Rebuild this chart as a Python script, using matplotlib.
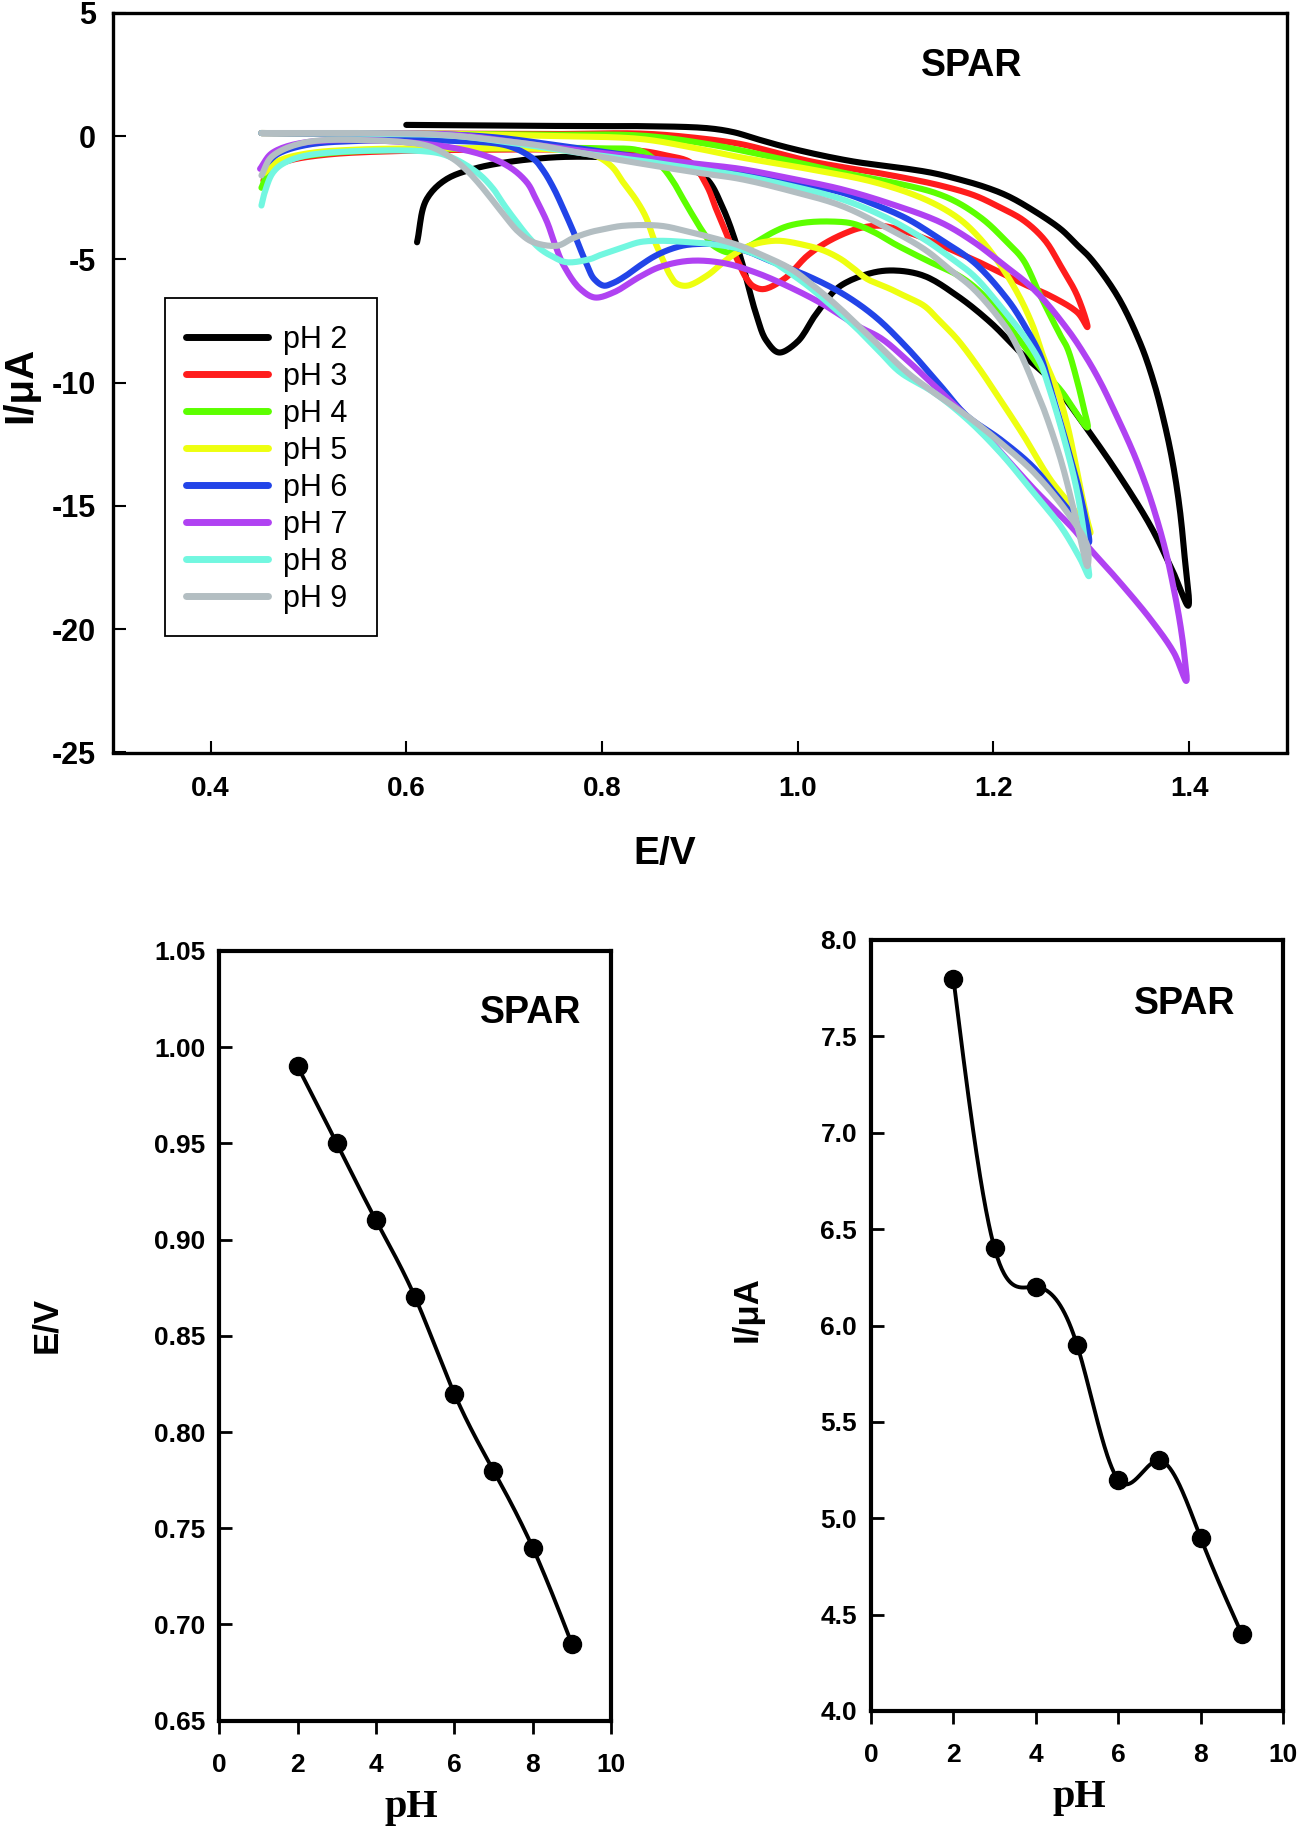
import numpy as np
import matplotlib
matplotlib.use("Agg")
import matplotlib.pyplot as plt
from matplotlib.ticker import FormatStrFormatter, MultipleLocator
from matplotlib.patches import Rectangle

plt.rcParams['axes.unicode_minus'] = False
plt.rcParams['font.family'] = ['Liberation Sans', 'DejaVu Sans']

# ---------------- data: cyclic voltammograms (E/V, I/uA) ----------------
labels = ['pH 2', 'pH 3', 'pH 4', 'pH 5', 'pH 6', 'pH 7', 'pH 8', 'pH 9']
colors = ['#000000', '#ff1c1c', '#5cff00', '#eeff10', '#2244e8', '#b042f2', '#72f7e0', '#b3bec2']

E_ph2 = [0.600, 0.70, 0.80, 0.839, 0.907, 0.935, 0.958, 0.985, 1.010, 1.036, 1.061, 1.087, 1.112, 1.138, 1.163, 1.19, 1.214, 1.24, 1.2686, 1.285, 1.299, 1.3266, 1.350, 1.364, 1.3745, 1.383, 1.390, 1.395, 1.399,
         1.385, 1.3606, 1.3266, 1.2959, 1.2686, 1.255, 1.231, 1.197, 1.163, 1.129, 1.102, 1.078, 1.044, 1.020, 0.999, 0.981, 0.968, 0.958, 0.941, 0.924, 0.907, 0.890, 0.860, 0.805, 0.754, 0.703, 0.669, 0.6415, 0.621, 0.611]
I_ph2 = [0.45, 0.42, 0.40, 0.40, 0.32, 0.15, -0.12, -0.42, -0.66, -0.88, -1.06, -1.2, -1.33, -1.5, -1.74, -2.05, -2.42, -3.0, -3.77, -4.4, -4.95, -6.48, -8.4, -10.0, -11.6, -13.2, -15.0, -16.9, -19.05,
         -17.8, -15.82, -13.65, -11.89, -10.40, -9.75, -8.91, -7.56, -6.48, -5.67, -5.46, -5.53, -6.07, -7.15, -8.37, -8.78, -8.3, -7.29, -4.85, -2.96, -1.74, -1.33, -1.0, -0.86, -0.86, -1.06, -1.33, -1.74, -2.55, -4.31]

E_ph3 = [0.452, 0.60, 0.75, 0.839, 0.89, 0.941, 0.975, 1.010, 1.044, 1.078, 1.112, 1.146, 1.18, 1.207, 1.23, 1.252, 1.2686, 1.2857, 1.296,
         1.2857, 1.258, 1.2346, 1.214, 1.19, 1.163, 1.139, 1.112, 1.085, 1.065, 1.051, 1.03, 1.010, 0.986, 0.965, 0.955, 0.948, 0.938, 0.928, 0.917, 0.907, 0.890, 0.866, 0.839, 0.78, 0.70, 0.60, 0.52, 0.48, 0.462, 0.454]
I_ph3 = [0.12, 0.10, 0.08, 0.10, -0.05, -0.32, -0.65, -1.0, -1.25, -1.47, -1.72, -2.01, -2.4, -2.9, -3.4, -4.2, -5.26, -6.48, -7.75,
         -7.15, -6.48, -6.07, -5.67, -5.2, -4.72, -4.3, -3.90, -3.64, -3.72, -3.90, -4.3, -4.85, -5.80, -6.21, -6.1, -5.80, -5.0, -4.04, -3.0, -2.01, -1.06, -0.79, -0.6, -0.55, -0.55, -0.6, -0.75, -1.0, -1.3, -1.8]

E_ph4 = [0.452, 0.60, 0.75, 0.839, 0.907, 0.975, 1.044, 1.112, 1.14, 1.163, 1.19, 1.214, 1.23, 1.248, 1.2686, 1.2755, 1.286, 1.292, 1.296,
         1.2686, 1.25, 1.231, 1.214, 1.197, 1.18, 1.163, 1.14, 1.121, 1.10, 1.078, 1.056, 1.036, 1.010, 0.99, 0.975, 0.951, 0.935, 0.928, 0.914, 0.905, 0.897, 0.885, 0.873, 0.86, 0.839, 0.80, 0.70, 0.60, 0.52, 0.48, 0.462, 0.452]
I_ph4 = [0.12, 0.10, 0.05, 0.02, -0.32, -0.86, -1.47, -2.01, -2.3, -2.69, -3.4, -4.31, -5.0, -6.48, -8.1, -8.6, -10.0, -11.0, -11.82,
         -10.3, -9.5, -8.5, -7.6, -6.76, -6.1, -5.63, -5.2, -4.83, -4.4, -3.9, -3.55, -3.47, -3.50, -3.65, -3.90, -4.45, -4.7, -4.72, -4.45, -4.0, -3.50, -2.7, -1.87, -1.2, -0.6, -0.5, -0.5, -0.55, -0.7, -0.95, -1.3, -2.1]

E_ph5 = [0.452, 0.60, 0.75, 0.839, 0.89, 0.941, 1.010, 1.078, 1.129, 1.163, 1.185, 1.206, 1.225, 1.240, 1.2515, 1.266, 1.276, 1.283, 1.290, 1.296, 1.299,
         1.2795, 1.258, 1.231, 1.207, 1.185, 1.163, 1.145, 1.129, 1.11, 1.095, 1.071, 1.058, 1.044, 1.027, 1.010, 0.982, 0.965, 0.951, 0.935, 0.924, 0.907, 0.887, 0.877, 0.870, 0.862, 0.853, 0.845, 0.835, 0.822, 0.809, 0.79, 0.75, 0.65, 0.55, 0.50, 0.47, 0.455]
I_ph5 = [0.12, 0.10, 0.0, -0.12, -0.45, -0.86, -1.33, -1.87, -2.55, -3.3, -4.1, -5.17, -6.4, -7.67, -9.0, -10.4, -11.8, -13.1, -14.5, -15.6, -16.1,
         -15.0, -13.92, -12.16, -10.7, -9.4, -8.24, -7.5, -6.88, -6.5, -6.21, -5.80, -5.4, -4.99, -4.65, -4.45, -4.25, -4.3, -4.45, -4.8, -5.12, -5.67, -6.07, -6.0, -5.67, -5.0, -4.18, -3.3, -2.6, -1.9, -1.2, -0.75, -0.55, -0.5, -0.55, -0.7, -1.0, -1.5]

E_ph6 = [0.452, 0.55, 0.65, 0.695, 0.74, 0.780, 0.839, 0.89, 0.941, 0.99, 1.044, 1.08, 1.112, 1.146, 1.180, 1.214, 1.232, 1.248, 1.258, 1.2755, 1.289, 1.2975,
         1.285, 1.265, 1.24, 1.207, 1.173, 1.146, 1.112, 1.078, 1.044, 1.010, 0.975, 0.95, 0.924, 0.890, 0.873, 0.855, 0.839, 0.825, 0.812, 0.802, 0.792, 0.785, 0.778, 0.771, 0.761, 0.751, 0.740, 0.730, 0.703, 0.65, 0.55, 0.50, 0.47, 0.455]
I_ph6 = [0.12, 0.10, 0.05, -0.07, -0.3, -0.52, -0.86, -1.2, -1.47, -1.85, -2.28, -2.8, -3.36, -4.2, -5.12, -6.61, -7.7, -8.91, -10.2, -12.6, -14.6, -16.49,
         -15.6, -14.6, -13.4, -12.3, -11.35, -10.13, -8.6, -7.29, -6.35, -5.67, -5.12, -4.7, -4.42, -4.4, -4.55, -4.85, -5.25, -5.65, -5.95, -6.07, -5.8, -5.26, -4.6, -3.90, -3.0, -2.15, -1.4, -0.93, -0.39, -0.2, -0.2, -0.35, -0.7, -1.2]

E_ph7 = [0.452, 0.55, 0.65, 0.72, 0.78, 0.839, 0.89, 0.941, 0.99, 1.044, 1.095, 1.146, 1.180, 1.207, 1.241, 1.2755, 1.296, 1.3095, 1.323, 1.3436, 1.357, 1.3675, 1.377, 1.384, 1.3905, 1.395, 1.397,
         1.3845, 1.3606, 1.3266, 1.299, 1.282, 1.241, 1.207, 1.173, 1.139, 1.112, 1.085, 1.061, 1.027, 0.993, 0.958, 0.924, 0.890, 0.860, 0.839, 0.812, 0.793, 0.778, 0.761, 0.752, 0.744, 0.733, 0.723, 0.703, 0.669, 0.600, 0.498, 0.464, 0.4506]
I_ph7 = [0.12, 0.10, 0.05, -0.3, -0.6, -0.86, -1.1, -1.33, -1.7, -2.15, -2.75, -3.50, -4.3, -5.12, -6.21, -7.83, -9.05, -10.0, -11.1, -12.9, -14.3, -15.6, -17.0, -18.3, -19.7, -21.0, -22.1,
         -20.96, -19.6, -17.98, -16.76, -15.95, -14.3, -12.8, -11.4, -10.1, -9.1, -8.2, -7.7, -6.85, -6.15, -5.55, -5.15, -5.06, -5.3, -5.70, -6.34, -6.55, -6.21, -5.26, -4.4, -3.50, -2.6, -1.87, -1.20, -0.66, -0.25, -0.25, -0.66, -1.33]

E_ph8 = [0.452, 0.55, 0.65, 0.72, 0.78, 0.839, 0.89, 0.941, 0.99, 1.044, 1.09, 1.129, 1.155, 1.180, 1.205, 1.231, 1.248, 1.255, 1.2686, 1.2857, 1.296, 1.2975,
         1.289, 1.2686, 1.241, 1.207, 1.173, 1.139, 1.105, 1.085, 1.061, 1.035, 1.010, 0.990, 0.975, 0.941, 0.915, 0.890, 0.860, 0.839, 0.822, 0.800, 0.788, 0.764, 0.750, 0.737, 0.725, 0.713, 0.700, 0.689, 0.676, 0.662, 0.645, 0.628, 0.566, 0.498, 0.475, 0.464, 0.456, 0.452]
I_ph8 = [0.12, 0.10, 0.0, -0.35, -0.7, -1.0, -1.3, -1.6, -2.0, -2.55, -3.3, -4.18, -4.9, -5.67, -6.8, -8.10, -9.2, -9.99, -11.76, -14.46, -17.17, -17.85,
         -17.17, -15.82, -14.46, -12.84, -11.48, -10.40, -9.59, -8.8, -7.83, -6.9, -6.07, -5.5, -5.12, -4.58, -4.4, -4.31, -4.25, -4.3, -4.51, -4.8, -4.99, -5.12, -4.9, -4.58, -4.1, -3.50, -2.8, -2.15, -1.6, -1.20, -0.85, -0.66, -0.59, -0.79, -1.1, -1.47, -2.2, -2.82]

E_ph9 = [0.452, 0.55, 0.6346, 0.70, 0.737, 0.80, 0.860, 0.90, 0.941, 0.99, 1.044, 1.09, 1.129, 1.155, 1.180, 1.214, 1.228, 1.2415, 1.2515, 1.2686, 1.282, 1.296,
         1.296, 1.2755, 1.2415, 1.207, 1.173, 1.139, 1.112, 1.078, 1.044, 1.02, 0.993, 0.965, 0.941, 0.915, 0.890, 0.860, 0.822, 0.805, 0.788, 0.770, 0.754, 0.730, 0.715, 0.703, 0.690, 0.676, 0.662, 0.648, 0.621, 0.566, 0.498, 0.464, 0.452]
I_ph9 = [0.12, 0.12, 0.05, -0.2, -0.39, -0.85, -1.25, -1.5, -1.74, -2.2, -2.82, -3.7, -4.58, -5.4, -6.21, -7.83, -8.85, -10.1, -11.08, -13.1, -15.14, -17.44,
         -16.63, -15.27, -13.65, -12.43, -11.35, -10.4, -9.59, -8.3, -7.02, -6.2, -5.39, -4.85, -4.45, -4.15, -3.90, -3.64, -3.64, -3.75, -3.90, -4.15, -4.45, -4.31, -3.9, -3.36, -2.7, -2.01, -1.4, -0.93, -0.39, -0.18, -0.25, -0.79, -1.6]

E_curves = [E_ph2, E_ph3, E_ph4, E_ph5, E_ph6, E_ph7, E_ph8, E_ph9]
I_curves = [I_ph2, I_ph3, I_ph4, I_ph5, I_ph6, I_ph7, I_ph8, I_ph9]

# ---------------- data: peak potential / current vs pH ----------------
pH_values = [2, 3, 4, 5, 6, 7, 8, 9]
Ep_values = [0.99, 0.95, 0.91, 0.87, 0.82, 0.78, 0.74, 0.69]
Ip_values = [7.8, 6.4, 6.2, 5.9, 5.2, 5.3, 4.9, 4.4]


def natural_spline(x, y, n=400):
    """Smooth (spline) rendering of the connecting line, as in the original plot."""
    x = np.asarray(x, float)
    y = np.asarray(y, float)
    m = len(x)
    h = np.diff(x)
    A = np.zeros((m, m))
    r = np.zeros(m)
    A[0, 0] = 1
    A[-1, -1] = 1
    for i in range(1, m - 1):
        A[i, i - 1] = h[i - 1]
        A[i, i] = 2 * (h[i - 1] + h[i])
        A[i, i + 1] = h[i]
        r[i] = 6 * ((y[i + 1] - y[i]) / h[i] - (y[i] - y[i - 1]) / h[i - 1])
    M = np.linalg.solve(A, r)
    xs = np.linspace(x[0], x[-1], n)
    idx = np.clip(np.searchsorted(x, xs) - 1, 0, m - 2)
    x0, x1 = x[idx], x[idx + 1]
    hh = x1 - x0
    ys = (M[idx] * (x1 - xs) ** 3 / (6 * hh) + M[idx + 1] * (xs - x0) ** 3 / (6 * hh)
          + (y[idx] / hh - M[idx] * hh / 6) * (x1 - xs) + (y[idx + 1] / hh - M[idx + 1] * hh / 6) * (xs - x0))
    return xs, ys


def smooth_path(x, y, sx=1.0, sy=0.04, n=12):
    """Centripetal Catmull-Rom rendering through the read points (line smoothing only)."""
    P = np.column_stack([np.asarray(x, float) / sx, np.asarray(y, float) * sy])
    P = np.vstack([2 * P[0] - P[1], P, 2 * P[-1] - P[-2]])
    out = []
    for i in range(1, len(P) - 2):
        p0, p1, p2, p3 = P[i - 1], P[i], P[i + 1], P[i + 2]
        t0 = 0.0
        t1 = t0 + max(np.linalg.norm(p1 - p0), 1e-9) ** 0.5
        t2 = t1 + max(np.linalg.norm(p2 - p1), 1e-9) ** 0.5
        t3 = t2 + max(np.linalg.norm(p3 - p2), 1e-9) ** 0.5
        t = np.linspace(t1, t2, n, endpoint=False)[:, None]
        A1 = (t1 - t) / (t1 - t0) * p0 + (t - t0) / (t1 - t0) * p1
        A2 = (t2 - t) / (t2 - t1) * p1 + (t - t1) / (t2 - t1) * p2
        A3 = (t3 - t) / (t3 - t2) * p2 + (t - t2) / (t3 - t2) * p3
        B1 = (t2 - t) / (t2 - t0) * A1 + (t - t0) / (t2 - t0) * A2
        B2 = (t3 - t) / (t3 - t1) * A2 + (t - t1) / (t3 - t1) * A3
        C = (t2 - t) / (t2 - t1) * B1 + (t - t1) / (t2 - t1) * B2
        out.append(C)
    out.append(P[-2][None, :])
    C = np.vstack(out)
    return C[:, 0] * sx, C[:, 1] / sy


W, H = 1304, 1829
fig = plt.figure(figsize=(W / 100, H / 100), dpi=100)

narrow = ['Liberation Sans Narrow', 'Liberation Sans', 'DejaVu Sans']
bold_sans = ['Liberation Sans', 'DejaVu Sans']
serif = ['Liberation Serif', 'DejaVu Serif']

# ---------------- top: CV ----------------
ax = fig.add_axes([112.7 / W, 1 - 752.5 / H, (1287 - 112.7) / W, (752.5 - 12.7) / H])
lines = []
for Ev, Iv, c, lab in zip(E_curves, I_curves, colors, labels):
    xs, ys = smooth_path(Ev, Iv)
    ln, = ax.plot(xs, ys, color=c, lw=4.4, label=lab, solid_capstyle='round', solid_joinstyle='round')
    lines.append(ln)
ax.set_xlim(0.3, 1.5)
ax.set_ylim(-25, 5)
ax.set_xticks([0.4, 0.6, 0.8, 1.0, 1.2, 1.4])
ax.yaxis.set_major_locator(MultipleLocator(5))
ax.xaxis.set_major_formatter(FormatStrFormatter('%.1f'))
ax.yaxis.set_major_formatter(FormatStrFormatter('%d'))
ax.tick_params(axis='both', direction='in', length=9, width=1.5, top=False, right=False)
ax.tick_params(axis='x', pad=17)
ax.tick_params(axis='y', pad=12)
for t in ax.get_xticklabels():
    t.set_fontfamily(narrow); t.set_fontweight('bold'); t.set_fontsize(20)
for t in ax.get_yticklabels():
    t.set_fontfamily(bold_sans); t.set_fontweight('bold'); t.set_fontsize(22)
for s in ax.spines.values():
    s.set_linewidth(2.4)
fig.text(665 / W, 1 - 854 / H, 'E/V', ha='center', va='center', fontsize=28,
         fontweight='bold', family=narrow)
fig.text(20 / W, 1 - 385 / H, 'I/μA', ha='center', va='center', rotation=90,
         fontsize=29, fontweight='bold', family=bold_sans)
ax.text(1.178, 2.82, 'SPAR', ha='center', va='center', fontsize=27, fontweight='bold',
        family=bold_sans)

# legend box
x0, x1 = (165 - 112.7) / 1174.3, (377 - 112.7) / 1174.3
y0, y1 = (752.5 - 636) / 739.8, (752.5 - 298) / 739.8
ax.add_patch(Rectangle((x0, y0), x1 - x0, y1 - y0, transform=ax.transAxes, fill=False,
                       edgecolor='black', lw=1.3, zorder=5))
leg = ax.legend(handles=lines, loc='upper left', bbox_to_anchor=((186 - 112.7) / 1174.3, (752.5 - 325) / 739.8),
                frameon=False, borderpad=0, borderaxespad=0, handlelength=2.67,
                handletextpad=0.5, labelspacing=0.23, prop={'family': bold_sans, 'size': 22})
for lh in leg.get_lines():
    lh.set_linewidth(5)

# ---------------- bottom-left: E vs pH ----------------
ax2 = fig.add_axes([219.3 / W, 1 - 1720.7 / H, (611 - 219.3) / W, (1720.7 - 951) / H])
xs, ys = natural_spline(pH_values, Ep_values)
ax2.plot(xs, ys, color='black', lw=2.8)
ax2.plot(pH_values, Ep_values, 'o', color='black', ms=13)
ax2.set_xlim(0, 10)
ax2.set_ylim(0.65, 1.05)
ax2.xaxis.set_major_locator(MultipleLocator(2))
ax2.yaxis.set_major_locator(MultipleLocator(0.05))
ax2.yaxis.set_major_formatter(FormatStrFormatter('%.2f'))
ax2.text(7.96, 1.018, 'SPAR', ha='center', va='center', fontsize=27, fontweight='bold', family=bold_sans)
fig.text(47 / W, 1 - 1325 / H, 'E/V', ha='center', va='center', rotation=90,
         fontsize=25, fontweight='bold', family=bold_sans)
fig.text(411 / W, 1 - 1807 / H, 'pH', ha='center', va='center',
         fontsize=29, fontweight='bold', family=serif)

# ---------------- bottom-right: I vs pH ----------------
ax3 = fig.add_axes([871 / W, 1 - 1711 / H, (1283 - 871) / W, (1711 - 940) / H])
xs, ys = natural_spline(pH_values, Ip_values)
ax3.plot(xs, ys, color='black', lw=2.8)
ax3.plot(pH_values, Ip_values, 'o', color='black', ms=13)
ax3.set_xlim(0, 10)
ax3.set_ylim(4.0, 8.0)
ax3.xaxis.set_major_locator(MultipleLocator(2))
ax3.yaxis.set_major_locator(MultipleLocator(0.5))
ax3.yaxis.set_major_formatter(FormatStrFormatter('%.1f'))
ax3.text(7.62, 7.67, 'SPAR', ha='center', va='center', fontsize=27, fontweight='bold', family=bold_sans)
fig.text(747 / W, 1 - 1309 / H, 'I/μA', ha='center', va='center', rotation=90,
         fontsize=25, fontweight='bold', family=bold_sans)
fig.text(1079 / W, 1 - 1798 / H, 'pH', ha='center', va='center',
         fontsize=29, fontweight='bold', family=serif)

for a in (ax2, ax3):
    a.tick_params(axis='x', direction='out', length=9, width=2, pad=14, top=False)
    a.tick_params(axis='y', direction='in', length=9, width=2, pad=10, right=False)
    for t in a.get_xticklabels() + a.get_yticklabels():
        t.set_fontfamily(bold_sans); t.set_fontweight('bold'); t.set_fontsize(19)
    for s in a.spines.values():
        s.set_linewidth(3)

fig.savefig('out.png', dpi=100)
